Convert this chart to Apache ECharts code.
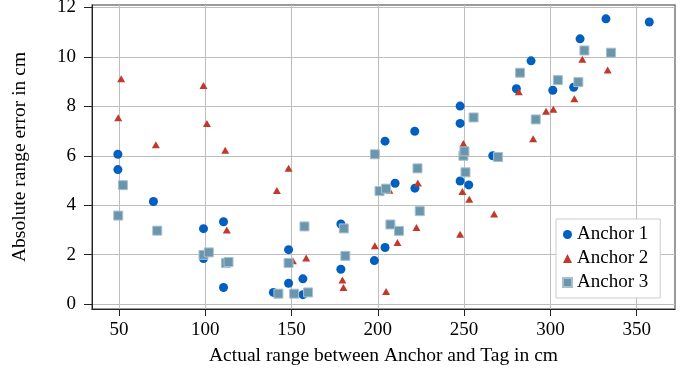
<!DOCTYPE html>
<html>
<head>
<meta charset="utf-8">
<script src="https://cdn.jsdelivr.net/npm/echarts@6/dist/echarts.min.js"></script>
<style>
html, body { margin: 0; padding: 0; background: #fff; }
#scatterChart { width: 696px; height: 368px; }
</style>
</head>
<body>
<div id="scatterChart"></div>
<script>
var byId = function(id){
	return document.getElementById(id);
};

// Anchor 1 (circles)
var anchor1X = [49.4, 49.4, 70.0, 99.0, 99.0, 110.6, 110.6, 139.5, 148.3, 148.3, 156.6, 156.6, 178.6, 178.6, 198.0, 204.2,
	204.2, 210.0, 221.5, 221.4, 247.7, 247.7, 247.7, 252.7, 266.6, 280.3, 288.8, 301.4, 313.5, 317.2, 332.2, 357.3];
var anchor1Y = [6.06, 5.44, 4.15, 3.05, 1.84, 3.33, 0.67, 0.47, 2.20, 0.84, 1.02, 0.38, 3.24, 1.41, 1.76, 2.29,
	6.59, 4.89, 4.69, 6.99, 8.01, 7.31, 4.98, 4.82, 6.00, 8.71, 9.84, 8.65, 8.77, 10.73, 11.54, 11.41];

// Anchor 2 (triangles)
var anchor2X = [51.3, 49.6, 71.4, 99.0, 101.0, 111.6, 112.5, 141.5, 148.3, 150.8, 157.5, 158.5, 179.5, 180.1, 198.3, 204.8,
	206.7, 211.4, 222.4, 223.2, 247.7, 249.0, 249.6, 253.0, 267.4, 281.7, 290.0, 297.5, 301.7, 313.9, 318.5, 333.2];
var anchor2Y = [9.12, 7.54, 6.45, 8.84, 7.31, 6.22, 3.00, 4.59, 5.49, 1.75, 3.20, 1.86, 0.97, 0.67, 2.36, 0.51,
	4.60, 2.49, 3.10, 4.90, 2.82, 4.55, 6.50, 4.24, 3.64, 8.59, 6.69, 7.80, 7.88, 8.31, 9.90, 9.47];

// Anchor 3 (squares)
var anchor3X = [52.3, 49.6, 72.2, 99.0, 102.1, 112.0, 113.5, 142.4, 148.3, 151.5, 157.5, 159.6, 180.3, 181.2, 198.3, 201.0,
	204.8, 207.3, 212.3, 223.0, 224.3, 249.6, 250.2, 250.8, 255.5, 269.7, 282.4, 291.5, 304.3, 316.2, 319.7, 335.1];
var anchor3Y = [4.81, 3.58, 2.97, 1.99, 2.09, 1.66, 1.70, 0.42, 1.66, 0.42, 3.14, 0.47, 3.06, 1.95, 6.06, 4.57,
	4.67, 3.22, 2.96, 5.49, 3.76, 6.00, 6.18, 5.33, 7.55, 5.95, 9.36, 7.47, 9.06, 8.98, 10.26, 10.17];

var xTicks = [50, 100, 150, 200, 250, 300, 350];
var yTicks = [0, 2, 4, 6, 8, 10, 12];

var pairs = function(xs, ys){
	var out = [];
	for (var i = 0; i < xs.length; i++) {
		out.push([xs[i], ys[i]]);
	}
	return out;
};

var serif = 'Liberation Serif';

var chartOption = {
	animation: false,
	backgroundColor: '#fff',
	textStyle: { fontFamily: serif },
	grid: {
		left: 92,
		right: 21,
		top: 5,
		bottom: 59,
		show: true,
		borderColor: '#7a7a7a',
		borderWidth: 1.5,
		outerBoundsMode: 'none'
	},
	legend: {
		orient: 'vertical',
		left: 556,
		top: 219,
		backgroundColor: '#fff',
		borderColor: '#cccccc',
		borderWidth: 1,
		padding: [6, 12, 6, 6],
		itemGap: 5,
		itemWidth: 9,
		itemHeight: 9,
		textStyle: { fontFamily: serif, fontSize: 19, lineHeight: 19, color: '#000' },
		data: ['Anchor 1', 'Anchor 2', 'Anchor 3']
	},
	xAxis: {
		type: 'value',
		min: 34.4,
		max: 372.2,
		name: 'Actual range between Anchor and Tag in cm',
		nameLocation: 'middle',
		nameGap: 37,
		nameTextStyle: { fontFamily: serif, fontSize: 19.5, color: '#000' },
		axisLine: { show: true, onZero: false, lineStyle: { color: '#222', width: 1 } },
		axisTick: { show: true, inside: false, length: 7, customValues: xTicks, lineStyle: { color: '#222' } },
		axisLabel: { margin: 12, customValues: xTicks, fontFamily: serif, fontSize: 19, color: '#000' },
		splitLine: { show: true, lineStyle: { color: '#bdbdbd', width: 1 } }
	},
	yAxis: {
		type: 'value',
		min: -0.2,
		max: 12.1,
		name: 'Absolute range error in cm',
		nameLocation: 'middle',
		nameGap: 62,
		nameTextStyle: { fontFamily: serif, fontSize: 19.5, color: '#000' },
		axisLine: { show: true, onZero: false, lineStyle: { color: '#222', width: 1 } },
		axisTick: { show: true, inside: false, length: 8, customValues: yTicks, lineStyle: { color: '#222' } },
		axisLabel: { margin: 16, customValues: yTicks, fontFamily: serif, fontSize: 19, color: '#000' },
		splitLine: { show: true, lineStyle: { color: '#bdbdbd', width: 1 } }
	},
	series: [{
		name: 'Anchor 1',
		type: 'scatter',
		symbol: 'circle',
		symbolSize: 9,
		itemStyle: { color: '#005fc0', opacity: 1 },
		data: pairs(anchor1X, anchor1Y)
	}, {
		name: 'Anchor 2',
		type: 'scatter',
		symbol: 'triangle',
		symbolSize: [8, 7],
		itemStyle: { color: '#c0392b', opacity: 1 },
		data: pairs(anchor2X, anchor2Y)
	}, {
		name: 'Anchor 3',
		type: 'scatter',
		symbol: 'rect',
		symbolSize: 9,
		itemStyle: { color: '#6a96ad', borderColor: '#a8c0ce', borderWidth: 1, opacity: 1 },
		data: pairs(anchor3X, anchor3Y)
	}]
};

var scatterChart = echarts.init(byId('scatterChart'), null, { renderer: 'canvas' });
scatterChart.setOption(chartOption);
</script>
</body>
</html>
